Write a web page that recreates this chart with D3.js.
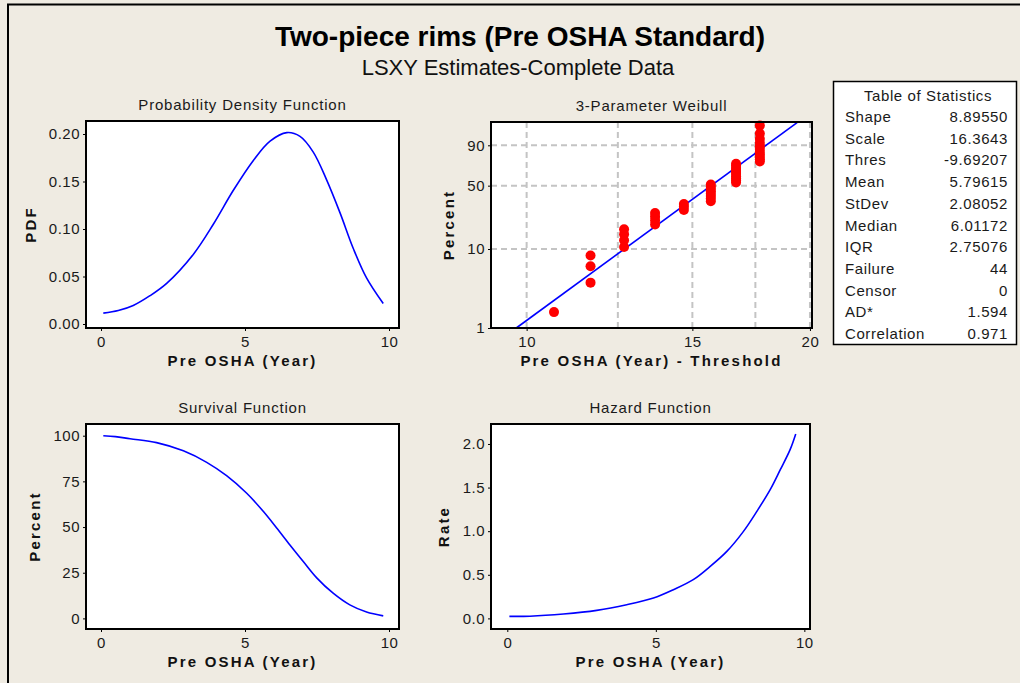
<!DOCTYPE html>
<html>
<head>
<meta charset="utf-8">
<script src="https://cdn.jsdelivr.net/npm/d3@7"></script>
<style>
  body { margin: 0; background: #efebe2; }
  svg { display: block; font-family: "Liberation Sans", Arial, sans-serif; }
  .tick text { font-size: 15px; fill: #1a1a1a; letter-spacing: 0.5px; }
  .tick line { stroke: #000; }
  .axis-title { font-size: 15px; font-weight: bold; letter-spacing: 2.2px; fill: #111; }
  .panel-title { font-size: 15px; letter-spacing: 0.8px; fill: #1a1a1a; }
</style>
</head>
<body>
<script>
// ---- data ----------------------------------------------------------
const pdfYear  = [0.08, 0.6, 1.12, 1.7, 2.28, 3.21, 3.9, 4.59, 5.29, 5.87, 6.45, 6.91, 7.37, 7.83, 8.3, 8.76, 9.22, 9.8];
const pdfValue = [0.0115, 0.0142, 0.0195, 0.0298, 0.0428, 0.0735, 0.105, 0.1405, 0.1722, 0.1925, 0.2015, 0.1975, 0.181, 0.152, 0.117, 0.0795, 0.0485, 0.0215];

const survYear    = [0.08, 0.5, 1.01, 1.93, 2.86, 3.67, 4.36, 5.06, 5.64, 6.1, 6.56, 7.03, 7.49, 8.06, 8.64, 9.22, 9.8];
const survPercent = [100, 99.5, 98.3, 96.2, 91.7, 85.4, 78.1, 68.5, 58.5, 49.5, 40.2, 31.0, 22.2, 13.8, 7.4, 3.5, 1.4];

const hazYear = [0.07, 0.76, 1.89, 3.01, 4.02, 4.92, 5.59, 6.26, 6.83, 7.39, 7.95, 8.4, 8.85, 9.19, 9.52, 9.71];
const hazRate = [0.023, 0.025, 0.05, 0.092, 0.157, 0.234, 0.329, 0.444, 0.596, 0.768, 0.998, 1.227, 1.476, 1.705, 1.935, 2.115];

// failure times (years) and their plotted percents on the Weibull plot
const dotYear = [1, 2, 2, 2, 3, 3, 3, 3, 4, 4, 4, 4, 5, 5, 5,
  6, 6, 6, 6, 6, 6, 6, 6, 7, 7, 7, 7, 7, 7, 7, 7, 7, 7,
  8, 8, 8, 8, 8, 8, 8, 8, 8, 8, 8];
const dotPercent = [1.6, 3.8, 6.1, 8.3, 10.6, 12.8, 15.1, 17.3, 19.6, 21.8, 24.1, 26.4, 28.6, 30.9, 33.1,
  35.4, 37.6, 39.9, 42.1, 44.4, 46.6, 48.9, 51.1, 53.4, 55.6, 57.9, 60.1, 62.4, 64.6, 66.9, 69.1, 71.4, 73.6,
  75.9, 78.2, 80.4, 82.7, 84.9, 87.2, 89.4, 91.7, 93.9, 96.2, 98.4];
const fitX = [9.75, 19.38];
const fitPercent = [1.0, 98.9];

const statLabels = ["Shape", "Scale", "Thres", "Mean", "StDev", "Median", "IQR", "Failure", "Censor", "AD*", "Correlation"];
const statValues = ["8.89550", "16.3643", "-9.69207", "5.79615", "2.08052", "6.01172", "2.75076", "44", "0", "1.594", "0.971"];
const threshold = -9.69207;

const yearTicks = [0, 5, 10];
const pdfTicks = [0, 0.05, 0.10, 0.15, 0.20];
const survTicks = [0, 25, 50, 75, 100];
const hazTicks = [0, 0.5, 1.0, 1.5, 2.0];
const wbXTicks = [10, 15, 20];
const wbXGrid = [10, 12.5, 15, 17.5, 20];
const wbYTicks = [1, 10, 50, 90];
const wbYGrid = [10, 50, 90];
// --------------------------------------------------------------------

const svg = d3.select("body").append("svg").attr("width", 1020).attr("height", 683);

// outer frame (top and left edges)
svg.append("path").attr("d", "M7,4.5H1020M8,4V683").attr("stroke", "#000").attr("stroke-width", 2).attr("fill", "none");

svg.append("text").attr("x", 520).attr("y", 46).attr("text-anchor", "middle")
  .style("font-size", "28px").style("font-weight", "bold").attr("fill", "#000")
  .text("Two-piece rims (Pre OSHA Standard)");
svg.append("text").attr("x", 518).attr("y", 75).attr("text-anchor", "middle")
  .style("font-size", "22px").attr("fill", "#111")
  .text("LSXY Estimates-Complete Data");

function panel(box, x, y, opt) {
  const g = svg.append("g");
  g.append("rect").attr("x", box.l).attr("y", box.t).attr("width", box.r - box.l).attr("height", box.b - box.t)
    .attr("fill", "#fff");
  const xa = g.append("g").attr("transform", "translate(0," + box.b + ")")
    .call(d3.axisBottom(x).tickValues(opt.xTicks).tickFormat(d3.format("d")).tickSize(3).tickPadding(5));
  const ya = g.append("g").attr("transform", "translate(" + box.l + ",0)")
    .call(d3.axisLeft(opt.yAxisScale || y).tickValues(opt.yTicks).tickFormat(opt.yFormat).tickSize(3).tickPadding(3));
  xa.select(".domain").remove();
  ya.select(".domain").remove();
  g.append("text").attr("class", "panel-title").attr("x", (box.l + box.r) / 2).attr("y", box.t - 11)
    .attr("text-anchor", "middle").text(opt.title);
  g.append("text").attr("class", "axis-title").attr("x", (box.l + box.r) / 2).attr("y", box.b + 38)
    .attr("text-anchor", "middle").text(opt.xTitle);
  g.append("text").attr("class", "axis-title")
    .attr("transform", "translate(" + opt.yTitleX + "," + (box.t + box.b) / 2 + ") rotate(-90)")
    .attr("text-anchor", "middle").attr("dy", "0.35em").text(opt.yTitle);
  return g;
}

function frame(g, box) {
  g.append("rect").attr("x", box.l).attr("y", box.t).attr("width", box.r - box.l).attr("height", box.b - box.t)
    .attr("fill", "none").attr("stroke", "#000").attr("stroke-width", 2);
}

const curve = (x, y) => d3.line().x(d => x(d[0])).y(d => y(d[1])).curve(d3.curveCatmullRom.alpha(0.5));

// ---- PDF ----
const pdfBox = {l: 86, r: 399, t: 121, b: 328};
const xPdf = d3.scaleLinear().domain([-0.521, 10.347]).range([pdfBox.l, pdfBox.r]);
const yPdf = d3.scaleLinear().domain([-0.0042, 0.2137]).range([pdfBox.b, pdfBox.t]);
let g = panel(pdfBox, xPdf, yPdf, {xTicks: yearTicks, yTicks: pdfTicks, yFormat: d3.format(".2f"),
  title: "Probability Density Function", xTitle: "Pre OSHA (Year)", yTitle: "PDF", yTitleX: 31});
g.append("path").datum(d3.zip(pdfYear, pdfValue)).attr("d", curve(xPdf, yPdf))
  .attr("fill", "none").attr("stroke", "#0000ff").attr("stroke-width", 1.6);
frame(g, pdfBox);

// ---- 3-parameter Weibull probability plot ----
const wbBox = {l: 491, r: 812, t: 122, b: 328};
const wt = p => Math.log(-Math.log(1 - p / 100));
const xWb = d3.scaleLog().domain([9.165, 20.1]).range([wbBox.l, wbBox.r]);
const yWbLin = d3.scaleLinear().domain([wt(1), wt(99)]).range([wbBox.b, wbBox.t]);
const yWb = p => yWbLin(wt(p));
g = panel(wbBox, xWb, yWb, {xTicks: wbXTicks, yTicks: wbYTicks.map(wt), yAxisScale: yWbLin,
  yFormat: (d, i) => wbYTicks[i], title: "3-Parameter Weibull", xTitle: "Pre OSHA (Year) - Threshold",
  yTitle: "Percent", yTitleX: 449});
g.append("g").selectAll("line").data(wbXGrid).join("line")
  .attr("x1", d => xWb(d)).attr("x2", d => xWb(d)).attr("y1", wbBox.t).attr("y2", wbBox.b)
  .attr("stroke", "#c4c4c4").attr("stroke-width", 2).attr("stroke-dasharray", "6,4");
g.append("g").selectAll("line").data(wbYGrid).join("line")
  .attr("y1", d => yWb(d)).attr("y2", d => yWb(d)).attr("x1", wbBox.l).attr("x2", wbBox.r)
  .attr("stroke", "#c4c4c4").attr("stroke-width", 2).attr("stroke-dasharray", "6,4");
g.append("path").datum(d3.zip(fitX, fitPercent))
  .attr("d", d3.line().x(d => xWb(d[0])).y(d => yWb(d[1])))
  .attr("fill", "none").attr("stroke", "#0000ff").attr("stroke-width", 1.6);
g.append("g").selectAll("circle").data(d3.zip(dotYear, dotPercent)).join("circle")
  .attr("cx", d => xWb(d[0] - threshold)).attr("cy", d => yWb(d[1])).attr("r", 5).attr("fill", "#ff0000");
frame(g, wbBox);

// ---- Survival ----
const svBox = {l: 86, r: 399, t: 424, b: 629};
const xSv = d3.scaleLinear().domain([-0.521, 10.347]).range([svBox.l, svBox.r]);
const ySv = d3.scaleLinear().domain([-5.8, 106.4]).range([svBox.b, svBox.t]);
g = panel(svBox, xSv, ySv, {xTicks: yearTicks, yTicks: survTicks, yFormat: d3.format("d"),
  title: "Survival Function", xTitle: "Pre OSHA (Year)", yTitle: "Percent", yTitleX: 35});
g.append("path").datum(d3.zip(survYear, survPercent)).attr("d", curve(xSv, ySv))
  .attr("fill", "none").attr("stroke", "#0000ff").attr("stroke-width", 1.6);
frame(g, svBox);

// ---- Hazard ----
const hzBox = {l: 491, r: 810, t: 424, b: 629};
const xHz = d3.scaleLinear().domain([-0.549, 10.19]).range([hzBox.l, hzBox.r]);
const yHz = d3.scaleLinear().domain([-0.1216, 2.229]).range([hzBox.b, hzBox.t]);
g = panel(hzBox, xHz, yHz, {xTicks: yearTicks, yTicks: hazTicks, yFormat: d3.format(".1f"),
  title: "Hazard Function", xTitle: "Pre OSHA (Year)", yTitle: "Rate", yTitleX: 444});
g.append("path").datum(d3.zip(hazYear, hazRate)).attr("d", curve(xHz, yHz))
  .attr("fill", "none").attr("stroke", "#0000ff").attr("stroke-width", 1.6);
frame(g, hzBox);

// ---- Table of statistics ----
const tb = svg.append("g").style("font-size", "15px").style("letter-spacing", "0.6px").attr("fill", "#1a1a1a");
tb.append("rect").attr("x", 833.5).attr("y", 81.5).attr("width", 183).attr("height", 263)
  .attr("fill", "#fff").attr("stroke", "#000").attr("stroke-width", 1.5);
tb.append("text").attr("x", 928).attr("y", 101).attr("text-anchor", "middle").text("Table of Statistics");
const rowY = d3.scalePoint().domain(statLabels).range([122, 339]);
tb.selectAll("text.lab").data(statLabels).join("text").attr("class", "lab")
  .attr("x", 845).attr("y", d => rowY(d)).text(d => d);
tb.selectAll("text.val").data(statValues).join("text").attr("class", "val")
  .attr("x", 1008).attr("y", (d, i) => rowY(statLabels[i])).attr("text-anchor", "end").text(d => d);
</script>
</body>
</html>
